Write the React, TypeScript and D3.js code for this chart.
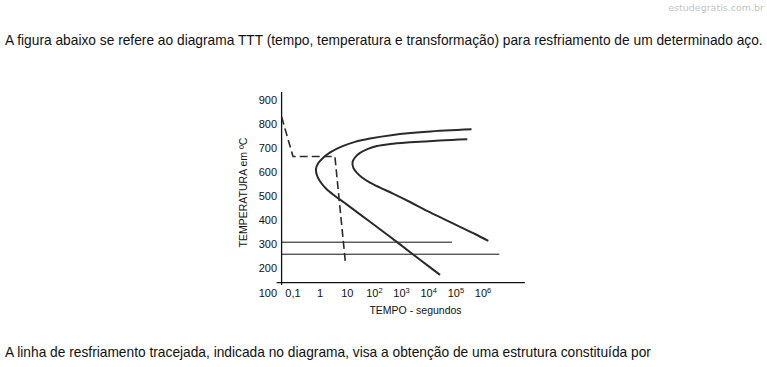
import React from "react";
import * as d3 from "d3";

// C-curves of the TTT diagram (time in s, temperature in ºC)
const outerTime = [378000, 8650, 484, 68.7, 19.2, 6.39, 2.51, 1.27, 0.834, 0.703, 0.766, 1.03, 1.71, 3.53, 8.97, 24.8, 74.8, 245, 877, 4780, 26100];
const outerTemp = [778, 768, 755, 740, 726, 707, 684, 659, 636, 613, 586, 559, 530, 501, 468, 431, 391, 347, 300, 236, 173];
const innerTime = [264000, 26100, 2050, 375, 124, 58, 29.4, 19.2, 15.6, 16.9, 22.8, 34.9, 68.7, 161, 484, 2050, 8650, 39900, 142000, 508000, 1570000];
const innerTemp = [737, 732, 724, 717, 709, 697, 680, 661, 642, 617, 597, 578, 557, 536, 511, 476, 439, 403, 373, 343, 314];

// dashed cooling path
const coolTime = [0.038, 0.1, 3.5, 8.6];
const coolTemp = [830, 665, 665, 220];

// horizontal lines (temperature, end time)
const hLineTemp = [309, 259];
const hLineEnd = [72000, 4000000];

const yTicks = [900, 800, 700, 600, 500, 400, 300, 200, 100];
const xTicks = [0.1, 1, 10, 100, 1000, 10000, 100000, 1000000];
const xTickBase = ["0,1", "1", "10", "10", "10", "10", "10", "10"];
const xTickExp = ["", "", "", "2", "3", "4", "5", "6"];

const topText = "A figura abaixo se refere ao diagrama TTT (tempo, temperatura e transformação) para resfriamento de um determinado aço.";
const bottomText = "A linha de resfriamento tracejada, indicada no diagrama, visa a obtenção de uma estrutura constituída por";

const font = "'Liberation Sans', Arial, sans-serif";

export default function App() {
  var x = d3.scaleLog().domain([0.1, 1e6]).range([293, 483]);
  var y = d3.scaleLinear().domain([200, 900]).range([268.4, 100]);

  // axis extents
  var tMin = 0.038, tLeft = 0.025, tRight = 3.5e7;
  var Tbottom = 131, Ttop = 934, Taxis = 141;

  var curve = d3.line<[number, number]>()
    .x(d => x(d[0]))
    .y(d => y(d[1]))
    .curve(d3.curveCatmullRom.alpha(0.5));
  var straight = d3.line<[number, number]>()
    .x(d => x(d[0]))
    .y(d => y(d[1]));

  var outer = outerTime.map((t, i) => [t, outerTemp[i]] as [number, number]);
  var inner = innerTime.map((t, i) => [t, innerTemp[i]] as [number, number]);
  var cool = coolTime.map((t, i) => [t, coolTemp[i]] as [number, number]);

  return (
    <svg width={767} height={367} style={{ position: "absolute", left: 0, top: 0, background: "#fff" }}>
      <text x={764} y={10.5} textAnchor="end" fontFamily="'DejaVu Sans', Verdana, sans-serif" fontSize={9.5} fill="#c4c4c4">estudegratis.com.br</text>
      <text x={5} y={45} fontFamily={font} fontSize={13.75} fill="#111">{topText}</text>
      <text x={5} y={357} fontFamily={font} fontSize={13.75} fill="#111">{bottomText}</text>

      {/* axes */}
      <line x1={x(tMin)} x2={x(tMin)} y1={y(Ttop)} y2={y(Tbottom)} stroke="#111" strokeWidth={1.3} />
      <line x1={x(tLeft)} x2={x(tRight)} y1={y(Taxis)} y2={y(Taxis)} stroke="#111" strokeWidth={1.3} />

      {yTicks.map(v => (
        <text key={v} x={277} y={y(v)} dy="0.37em" textAnchor="end" fontFamily={font} fontSize={11} fill="#111">{v}</text>
      ))}
      {xTicks.map((v, i) => (
        <text key={v} x={x(v)} y={297} textAnchor="middle" fontFamily={font} fontSize={11} fill="#111">
          {xTickBase[i]}
          {xTickExp[i] && <tspan dy={-4} fontSize={7.5}>{xTickExp[i]}</tspan>}
        </text>
      ))}
      <text x={415.5} y={313.5} textAnchor="middle" fontFamily={font} fontSize={10.5} fill="#111">TEMPO - segundos</text>
      <text transform="translate(247,192.5) rotate(-90)" textAnchor="middle" fontFamily={font} fontSize={10.5} fill="#111">TEMPERATURA em ºC</text>

      {/* horizontal lines */}
      {hLineTemp.map((T, i) => (
        <line key={T} x1={x(tMin)} x2={x(hLineEnd[i])} y1={y(T)} y2={y(T)} stroke="#111" strokeWidth={1} />
      ))}

      {/* TTT curves */}
      <path d={curve(outer) || ""} fill="none" stroke="#2a2a2a" strokeWidth={2} />
      <path d={curve(inner) || ""} fill="none" stroke="#2a2a2a" strokeWidth={2} />

      {/* cooling */}
      <path d={straight(cool) || ""} fill="none" stroke="#2a2a2a" strokeWidth={1.6} strokeDasharray="8,4" />
    </svg>
  );
}
